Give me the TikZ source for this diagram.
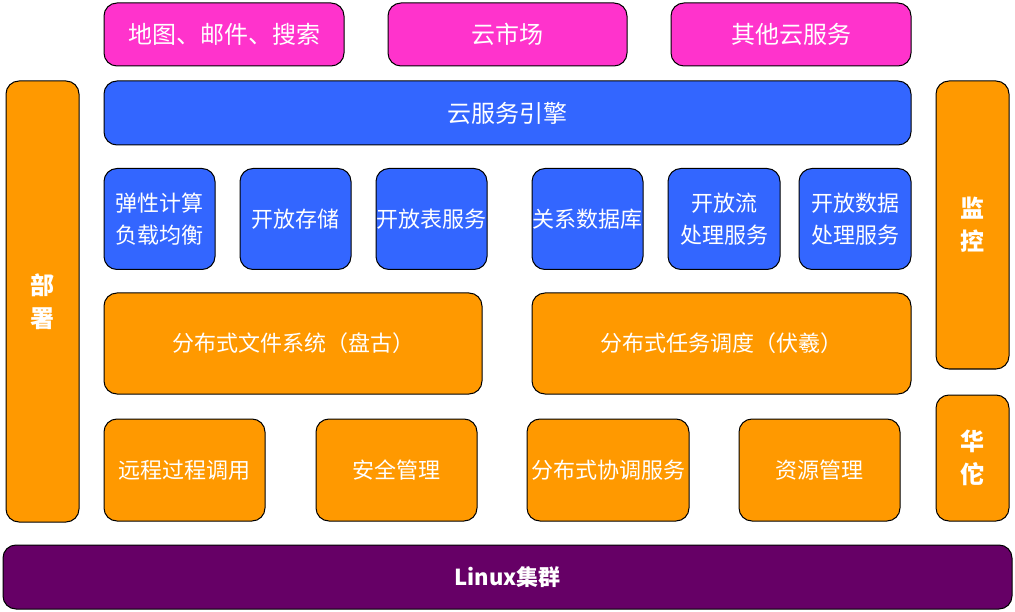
\documentclass[tikz,border=0pt]{standalone}
\usepackage{fontspec}
\setmainfont{Noto Sans CJK SC}
\usepackage{tikz}
\usetikzlibrary{positioning, calc}
\definecolor{appcolor}{RGB}{255, 51, 204}
\definecolor{servcolor}{RGB}{51, 102, 255}
\definecolor{basecolor}{RGB}{255, 153, 0}
\definecolor{oscolor}{RGB}{102, 0, 102}

\begin{document}
\begin{tikzpicture}[x=1pt, y=-1pt,
    box/.style={draw=black, line width=1pt, rounded corners=13pt, text=white,
        align=center, inner sep=0pt, font=\fontsize{22}{32}\selectfont},
    appbox/.style={box, fill=appcolor, minimum width=240pt, minimum height=63pt,
        font=\fontsize{24}{32}\selectfont},
    servbox/.style={box, fill=servcolor, minimum width=111pt, minimum height=101pt},
    basebox/.style={box, fill=basecolor, minimum height=101pt},
    sidebox/.style={box, fill=basecolor, minimum width=73pt,
        font=\fontsize{24}{33}\selectfont\bfseries}]
    \useasboundingbox (0,0) rectangle (1015,612);

    % applications
    \node[appbox] (maps) at (224,34.5) {地图、邮件、搜索};
    \node[appbox, minimum width=239pt] (market) at (507.5,34.5) {云市场};
    \node[appbox] (others) at (791,34.5) {其他云服务};

    % engine
    \node[box, fill=servcolor, minimum width=807pt, minimum height=64pt,
        font=\fontsize{24}{32}\selectfont] (engine) at (507.5,113) {云服务引擎};

    % services
    \node[servbox] (elastic) at (159.5,219) {弹性计算\\负载均衡};
    \node[servbox] (storage) at (295.5,219) {开放存储};
    \node[servbox] (table) at (431.5,219) {开放表服务};
    \node[servbox] (rds) at (587.5,219) {关系数据库};
    \node[servbox, minimum width=112pt] (stream) at (724,219) {开放流\\处理服务};
    \node[servbox, minimum width=112pt] (odps) at (855,219) {开放数据\\处理服务};

    % kernel
    \node[basebox, minimum width=378pt] (pangu) at (293,343.5) {分布式文件系统（盘古）};
    \node[basebox, minimum width=379pt] (fuxi) at (721.5,343.5) {分布式任务调度（伏羲）};
    \node[basebox, minimum width=161pt, minimum height=102pt] (rpc) at (184.5,470) {远程过程调用};
    \node[basebox, minimum width=161pt, minimum height=102pt] (security) at (396.5,470) {安全管理};
    \node[basebox, minimum width=162pt, minimum height=102pt] (coord) at (608,470) {分布式协调服务};
    \node[basebox, minimum width=161pt, minimum height=102pt] (resource) at (819.5,470) {资源管理};

    % side
    \node[sidebox, minimum height=441pt] (deploy) at (42.5,301.5) {部\\署};
    \node[sidebox, minimum height=288pt] (monitor) at (972.5,225) {监\\控};
    \node[sidebox, minimum height=126pt] (huatuo) at (972.5,458) {华\\佗};

    % cluster
    \node[box, fill=oscolor, minimum width=1009pt, minimum height=64pt,
        font=\fontsize{22}{32}\selectfont\bfseries] (linux) at (507.5,577) {Linux集群};
\end{tikzpicture}
\end{document}
